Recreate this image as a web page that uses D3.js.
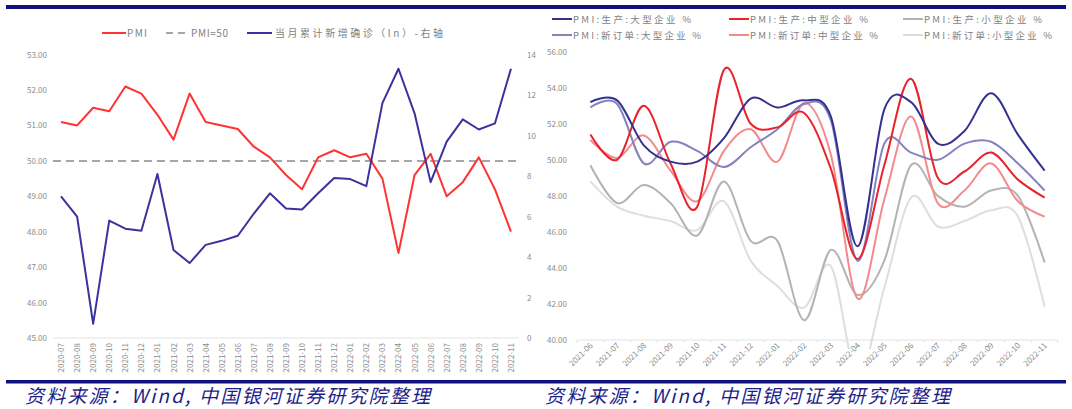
<!DOCTYPE html>
<html>
<head>
<meta charset="utf-8">
<script src="https://cdn.jsdelivr.net/npm/d3@7/dist/d3.min.js"></script>
<style>
  html, body { margin: 0; padding: 0; background: #fff; }
  svg { display: block; }
  text { font-family: "Noto Sans CJK SC", "Noto Sans", sans-serif; }
</style>
</head>
<body>
<svg id="chart" width="1072" height="409"></svg>
<script>
// ---- Left panel: official manufacturing PMI vs ln(new confirmed cases) ----
const leftMonths = ["2020-07","2020-08","2020-09","2020-10","2020-11","2020-12",
  "2021-01","2021-02","2021-03","2021-04","2021-05","2021-06","2021-07","2021-08",
  "2021-09","2021-10","2021-11","2021-12","2022-01","2022-02","2022-03","2022-04",
  "2022-05","2022-06","2022-07","2022-08","2022-09","2022-10","2022-11"];
const pmi = [51.1,51.0,51.5,51.4,52.1,51.9,51.3,50.6,51.9,51.1,51.0,50.9,50.4,50.1,
  49.6,49.2,50.1,50.3,50.1,50.2,49.5,47.4,49.6,50.2,49.0,49.4,50.1,49.2,48.0];
const lnCases = [7.0,6.0,0.7,5.8,5.4,5.3,8.1,4.35,3.7,4.6,4.8,5.05,6.15,7.15,
  6.4,6.35,7.15,7.9,7.85,7.5,11.6,13.3,11.1,7.7,9.7,10.8,10.3,10.6,13.3];
const pmiRef = 50;
const leftTicks = [45,46,47,48,49,50,51,52,53];
const rightTicks = [0,2,4,6,8,10,12,14];
const leftLegend = ["PMI", "PMI=50", "当月累计新增确诊（ln）-右轴"];

// ---- Right panel: PMI sub-indices by enterprise size ----
const rightMonths = ["2021-06","2021-07","2021-08","2021-09","2021-10","2021-11",
  "2021-12","2022-01","2022-02","2022-03","2022-04","2022-05","2022-06","2022-07",
  "2022-08","2022-09","2022-10","2022-11"];
const prodLarge  = [53.2,53.3,50.8,49.9,49.9,51.2,53.4,52.9,53.3,52.4,45.2,52.8,53.2,50.9,51.6,53.7,51.4,49.4];
const prodMid    = [51.4,50.0,53.0,49.8,47.4,55.0,52.0,51.8,52.6,49.5,44.5,49.7,54.5,49.0,49.35,50.4,48.9,47.9];
const prodSmall  = [49.7,47.6,48.6,47.6,45.8,48.8,45.5,45.5,41.1,45.0,42.5,44.4,49.7,48.0,47.4,48.3,48.0,44.3];
const orderLarge = [52.9,53.1,49.8,51.0,50.5,49.6,50.7,51.7,53.1,52.2,44.4,50.9,50.4,50.0,50.9,51.0,49.8,48.3];
const orderMid   = [51.1,50.1,51.35,49.4,47.7,50.5,51.7,49.9,53.15,50.3,42.3,47.8,52.4,47.6,48.3,49.8,47.7,46.85];
const orderSmall = [48.8,47.4,46.9,46.6,46.1,47.7,44.4,43.0,41.8,44.1,38.0,42.9,47.9,46.3,46.6,47.2,46.85,41.85];
const sizeTicks = [40,42,44,46,48,50,52,54,56];
const sizeNames = ["PMI:生产:大型企业 %","PMI:生产:中型企业 %","PMI:生产:小型企业 %",
  "PMI:新订单:大型企业 %","PMI:新订单:中型企业 %","PMI:新订单:小型企业 %"];

const sourceText = "资料来源：Wind, 中国银河证券研究院整理";

const svg = d3.select("#chart");
const navy = "#10107e";

// header / footer rules
svg.append("rect").attr("x", 6).attr("y", 5).attr("width", 1060).attr("height", 4).attr("fill", navy);
svg.append("rect").attr("x", 6).attr("y", 380).attr("width", 1060).attr("height", 3.5).attr("fill", navy);
[25, 545].forEach(x => {
  svg.append("text").attr("x", x).attr("y", 403)
    .attr("font-size", 19).attr("font-style", "italic")
    .attr("fill", "#1d1d8a")
    .attr("textLength", 405).attr("lengthAdjust", "spacing")
    .text(sourceText);
});

// ================= Left panel =================
{
  const x = d3.scaleBand().domain(leftMonths).range([53, 519]);
  const yL = d3.scaleLinear().domain([45, 53]).range([338, 54.6]);
  const yR = d3.scaleLinear().domain([0, 14]).range([338, 54.6]);
  const cx = d => x(d) + x.bandwidth() / 2;
  const g = svg.append("g");

  // left axis labels
  g.selectAll(".yl").data(leftTicks).join("text")
    .attr("x", 47).attr("y", d => yL(d) + 3)
    .attr("text-anchor", "end").attr("font-size", 8).attr("fill", "#8c8c8c")
    .text(d => d3.format(".2f")(d));
  // right axis labels
  g.selectAll(".yr").data(rightTicks).join("text")
    .attr("x", 527).attr("y", d => yR(d) + 3)
    .attr("text-anchor", "start").attr("font-size", 8).attr("fill", "#8c8c8c")
    .text(d => d);

  // baseline
  g.append("line").attr("x1", 53).attr("x2", 519).attr("y1", 338).attr("y2", 338)
    .attr("stroke", "#e3e3e3").attr("stroke-width", 1);

  // x labels, vertical
  g.selectAll(".xl").data(leftMonths).join("text")
    .attr("transform", d => `translate(${cx(d) + 3},${343}) rotate(-90)`)
    .attr("text-anchor", "end").attr("font-size", 8).attr("fill", "#8c8c8c")
    .text(d => d);

  // PMI = 50 reference across the whole plot width
  g.append("line").attr("x1", x.range()[0]).attr("x2", x.range()[1])
    .attr("y1", yL(pmiRef)).attr("y2", yL(pmiRef))
    .attr("stroke", "#a6a6a6").attr("stroke-width", 2).attr("stroke-dasharray", "8,5");

  const lineL = d3.line().x((d, i) => cx(leftMonths[i])).y(d => yL(d));
  const lineR = d3.line().x((d, i) => cx(leftMonths[i])).y(d => yR(d));
  g.append("path").attr("d", lineL(pmi)).attr("fill", "none")
    .attr("stroke", "#ff3333").attr("stroke-width", 2).attr("stroke-linejoin", "round");
  g.append("path").attr("d", lineR(lnCases)).attr("fill", "none")
    .attr("stroke", "#3b329c").attr("stroke-width", 2).attr("stroke-linejoin", "round");

  // legend
  const lg = g.append("g").attr("font-size", 10).attr("fill", "#7f7f7f");
  lg.append("line").attr("x1", 102).attr("x2", 126).attr("y1", 33).attr("y2", 33)
    .attr("stroke", "#ff3333").attr("stroke-width", 2);
  lg.append("text").attr("x", 127).attr("y", 37).attr("fill", "#7f7f7f")
    .attr("textLength", 20).attr("lengthAdjust", "spacing").text(leftLegend[0]);
  lg.append("line").attr("x1", 166).attr("x2", 190).attr("y1", 33).attr("y2", 33)
    .attr("stroke", "#a6a6a6").attr("stroke-width", 2).attr("stroke-dasharray", "7,5");
  lg.append("text").attr("x", 191).attr("y", 37).attr("fill", "#7f7f7f")
    .attr("textLength", 37).attr("lengthAdjust", "spacing").text(leftLegend[1]);
  lg.append("line").attr("x1", 247).attr("x2", 272).attr("y1", 33).attr("y2", 33)
    .attr("stroke", "#3b329c").attr("stroke-width", 2);
  lg.append("text").attr("x", 275).attr("y", 37).attr("fill", "#7f7f7f")
    .attr("textLength", 168).attr("lengthAdjust", "spacing").text(leftLegend[2]);
}

// ================= Right panel =================
{
  const x = d3.scaleBand().domain(rightMonths).range([577, 1058]);
  const y = d3.scaleLinear().domain([40, 56]).range([340, 51.7]);
  const cx = d => x(d) + x.bandwidth() / 2;
  const g = svg.append("g");

  g.selectAll(".yl").data(sizeTicks).join("text")
    .attr("x", 567).attr("y", d => y(d) + 3)
    .attr("text-anchor", "end").attr("font-size", 8).attr("fill", "#8c8c8c")
    .text(d => d3.format(".2f")(d));

  g.append("line").attr("x1", 577).attr("x2", 1058).attr("y1", 340).attr("y2", 340)
    .attr("stroke", "#e3e3e3").attr("stroke-width", 1);
  g.selectAll(".tk").data(d3.range(rightMonths.length + 1)).join("line")
    .attr("x1", i => 577 + i * x.step()).attr("x2", i => 577 + i * x.step())
    .attr("y1", 340).attr("y2", 343).attr("stroke", "#e3e3e3");

  g.selectAll(".xl").data(rightMonths).join("text")
    .attr("transform", d => `translate(${cx(d) + 3},${346}) rotate(-45)`)
    .attr("text-anchor", "end").attr("font-size", 8).attr("fill", "#8c8c8c")
    .text(d => d);

  svg.append("defs").append("clipPath").attr("id", "plotR")
    .append("rect").attr("x", 577).attr("y", 45).attr("width", 481).attr("height", 304);

  const series = [
    { v: orderSmall, c: "#dedede" },
    { v: prodSmall,  c: "#b3b3b3" },
    { v: orderMid,   c: "#f28b8b" },
    { v: orderLarge, c: "#8583bd" },
    { v: prodMid,    c: "#e8232c" },
    { v: prodLarge,  c: "#35318e" }
  ];
  const line = d3.line().x((d, i) => cx(rightMonths[i])).y(d => y(d))
    .curve(d3.curveCardinal.tension(0));
  const pg = g.append("g").attr("clip-path", "url(#plotR)");
  series.forEach(s => {
    pg.append("path").attr("d", line(s.v)).attr("fill", "none")
      .attr("stroke", s.c).attr("stroke-width", 2);
  });

  // legend: two rows, three columns
  const legendColors = ["#35318e", "#e8232c", "#b3b3b3", "#8583bd", "#f28b8b", "#dedede"];
  const colX = [552, 729, 903];
  const rowY = [19, 35];
  sizeNames.forEach((name, i) => {
    const cxL = colX[i % 3], cyL = rowY[Math.floor(i / 3)];
    g.append("line").attr("x1", cxL).attr("x2", cxL + 20).attr("y1", cyL).attr("y2", cyL)
      .attr("stroke", legendColors[i]).attr("stroke-width", 2);
    g.append("text").attr("x", cxL + 21).attr("y", cyL + 3.5)
      .attr("font-size", 9.5).attr("fill", "#7f7f7f")
      .attr("textLength", i < 3 ? 118 : 128).attr("lengthAdjust", "spacing")
      .text(name);
  });
}
</script>
</body>
</html>
